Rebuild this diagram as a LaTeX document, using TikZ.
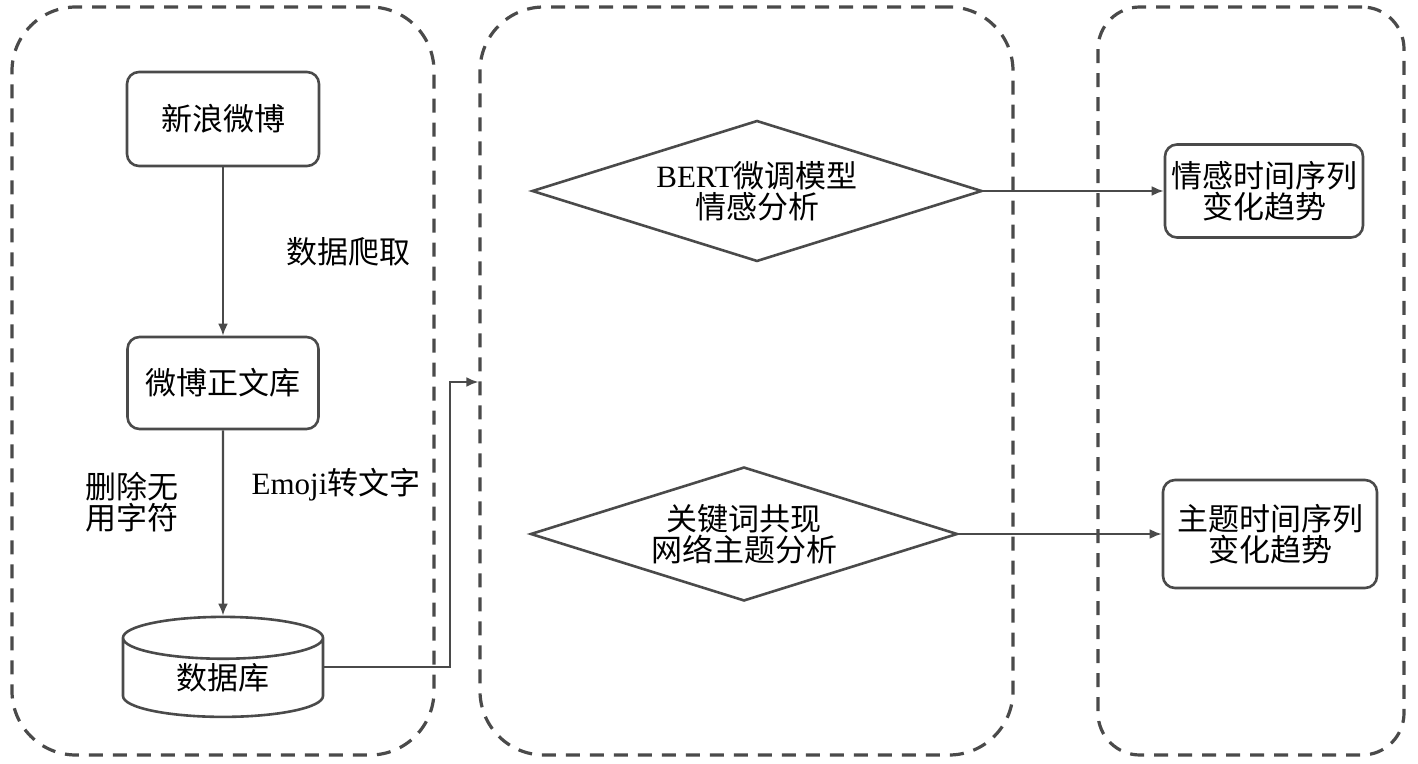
\documentclass[tikz,border=0pt]{standalone}
\usepackage{fontspec}
\setmainfont{Liberation Serif}
\newfontfamily\cjk{Noto Sans CJK SC}
\usetikzlibrary{shapes.geometric,arrows.meta}
\definecolor{linegray}{HTML}{4A4A4A}

\tikzset{
  panel/.style={draw=linegray, line width=1.6pt, dash pattern=on 7pt off 5pt, rounded corners=32pt},
  txt/.style={font=\cjk\fontsize{15.5}{15.5}\selectfont},
  stage/.style={txt, draw=linegray, line width=1.3pt, rounded corners=6pt, align=center, inner sep=0pt},
  decide/.style={txt, diamond, draw=linegray, line width=1.3pt, aspect=3.2, inner sep=0pt, align=center},
  store/.style={txt, cylinder, shape border rotate=90, aspect=0.45, draw=linegray, line width=1.3pt, inner sep=0pt},
  flow/.style={draw=linegray, line width=1.1pt, -{Latex[length=6pt,width=5pt]}},
  note/.style={txt, align=left, inner sep=0pt}
}

\begin{document}
\begin{tikzpicture}[x=0.5pt, y=-0.5pt]
\useasboundingbox (0,0) rectangle (1418,764);

% the three stages
\node[panel, minimum width=211pt, minimum height=374pt] (collect) at (223,381) {};
\node[panel, minimum width=266.5pt, minimum height=374pt] (analyse) at (746.5,381) {};
\node[panel, rounded corners=21pt, minimum width=153pt, minimum height=374pt] (result) at (1251,381) {};

% data collection
\node[stage, minimum width=96pt, minimum height=47pt] (weibo) at (223,119) {新浪微博};
\node[stage, minimum width=95.5pt, minimum height=46pt] (corpus) at (223,383) {微博正文库};
\node[store, minimum width=100pt, minimum height=50pt] (db) at (223,678) {数据库};

\node[note] (crawl) at (348,252) {数据爬取};
\node[note] (clean) at (132,502) {删除无\\用字符};
\node[note] (emoji) at (336,485) {{\rmfamily Emoji}转文字};

\draw[flow] (weibo) -- (corpus);
\draw[flow] (corpus) -- (db);

% analysis
\node[decide, minimum width=225pt, minimum height=70.5pt] (emotion) at (757,191) {{\rmfamily BERT}微调模型\\情感分析};
\node[decide, minimum width=213.5pt, minimum height=67pt] (topic) at (744,534) {关键词共现\\网络主题分析};

\coordinate (bend) at (450,382);
\draw[flow] (db.east |- db.shape center) -| (bend) -- (analyse.west |- bend);

% results
\node[stage, minimum width=99pt, minimum height=46.5pt] (emotrend) at (1264,191) {情感时间序列\\变化趋势};
\node[stage, minimum width=107pt, minimum height=54pt] (topictrend) at (1270,534) {主题时间序列\\变化趋势};

\draw[flow] (emotion.east) -- (emotrend.west);
\draw[flow] (topic.east) -- (topictrend.west);
\end{tikzpicture}
\end{document}
